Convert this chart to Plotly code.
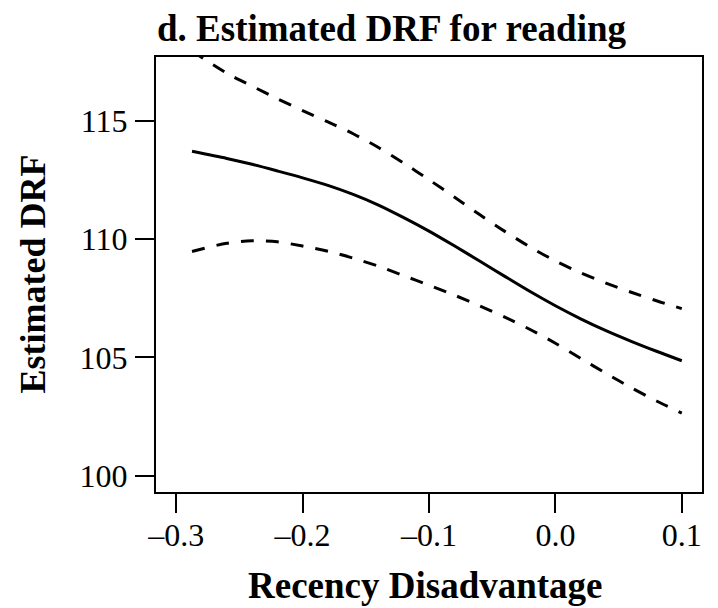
import plotly.graph_objects as go

# Data
x_vals = [-0.2875, -0.26, -0.24, -0.22, -0.20, -0.18, -0.16, -0.14, -0.12, -0.10,
          -0.08, -0.06, -0.04, -0.02, 0.00, 0.02, 0.04, 0.06, 0.08, 0.10]
drf_est = [113.70, 113.40, 113.15, 112.87, 112.58, 112.26, 111.88, 111.43, 110.90, 110.33,
           109.71, 109.07, 108.42, 107.78, 107.18, 106.63, 106.13, 105.68, 105.26, 104.86]
drf_upper = [117.93, 117.00, 116.45, 115.92, 115.42, 114.94, 114.44, 113.86, 113.20, 112.50,
             111.77, 111.03, 110.32, 109.66, 109.07, 108.57, 108.14, 107.75, 107.39, 107.06]
drf_lower = [109.47, 109.82, 109.92, 109.88, 109.70, 109.48, 109.19, 108.85, 108.45, 108.05,
             107.63, 107.18, 106.70, 106.18, 105.60, 104.96, 104.33, 103.72, 103.16, 102.65]

x_ticks = [-0.3, -0.2, -0.1, 0.0, 0.1]
x_ticklabels = ["\u20130.3", "\u20130.2", "\u20130.1", "0.0", "0.1"]
y_ticks = [100, 105, 110, 115]
y_ticklabels = ["100", "105", "110", "115"]

title_text = "d. Estimated DRF for reading"
x_title = "Recency Disadvantage"
y_title = "Estimated DRF"

FONT = "Liberation Serif"

fig = go.Figure()
fig.add_trace(go.Scatter(x=x_vals, y=drf_upper, mode="lines",
                         line=dict(color="black", width=3, dash="13px,12px", shape="spline", smoothing=0.8),
                         showlegend=False, hoverinfo="skip"))
fig.add_trace(go.Scatter(x=x_vals, y=drf_lower, mode="lines",
                         line=dict(color="black", width=3, dash="13px,12px", shape="spline", smoothing=0.8),
                         showlegend=False, hoverinfo="skip"))
fig.add_trace(go.Scatter(x=x_vals, y=drf_est, mode="lines",
                         line=dict(color="black", width=3, shape="spline", smoothing=0.8),
                         showlegend=False, hoverinfo="skip"))

axis_common = dict(showgrid=False, zeroline=False, showline=True, mirror=True,
                   linecolor="black", linewidth=2, ticks="outside", ticklen=19,
                   tickwidth=2, tickcolor="black",
                   tickfont=dict(family=FONT, size=32, color="black"))

fig.update_xaxes(range=[-0.316, 0.116], tickmode="array", tickvals=x_ticks,
                 ticktext=x_ticklabels, ticklabelstandoff=-5, **axis_common)
fig.update_yaxes(range=[99.32, 117.68], tickmode="array", tickvals=y_ticks,
                 ticktext=y_ticklabels, ticklabelstandoff=1, **axis_common)

fig.add_annotation(text="<b>" + title_text + "</b>", xref="paper", yref="paper",
                   x=0.432, y=1.066, xanchor="center", yanchor="middle", showarrow=False,
                   font=dict(family=FONT, size=37, color="black"))
fig.add_annotation(text="<b>" + x_title + "</b>", xref="paper", yref="paper",
                   x=0.4927, y=-0.214, xanchor="center", yanchor="middle", showarrow=False,
                   font=dict(family=FONT, size=37, color="black"))
fig.add_annotation(text="<b>" + y_title + "</b>", xref="paper", yref="paper",
                   x=-0.227, y=0.5, xanchor="center", yanchor="middle", showarrow=False,
                   textangle=-90, font=dict(family=FONT, size=36, color="black"))

# The page body adds an 8px offset, so the figure is 8px smaller and the
# margins are reduced accordingly to place the plot box where the reference has it.
fig.update_layout(width=710, height=600, paper_bgcolor="white", plot_bgcolor="white",
                  margin=dict(l=148, r=16, t=49, b=116, autoexpand=False),
                  font=dict(family=FONT, color="black"))

fig.write_html("out.html")
